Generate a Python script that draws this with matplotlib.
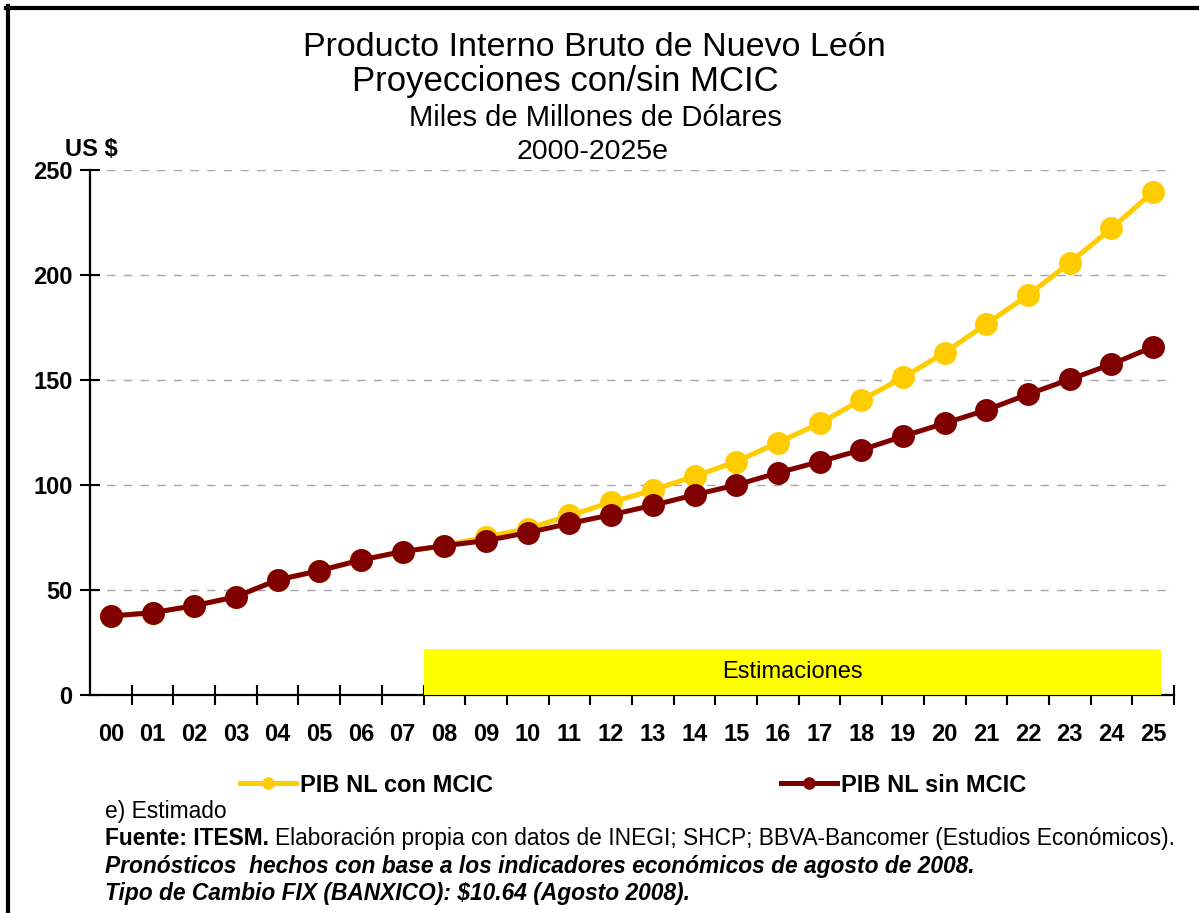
import matplotlib
matplotlib.use('Agg')
import matplotlib.pyplot as plt
from matplotlib.lines import Line2D
from matplotlib.patches import Rectangle
from matplotlib.ticker import MultipleLocator, FixedLocator

# PIB Nuevo León, miles de millones de dólares
years = ['00', '01', '02', '03', '04', '05', '06', '07', '08', '09', '10', '11', '12',
         '13', '14', '15', '16', '17', '18', '19', '20', '21', '22', '23', '24', '25']
pib_sin = [37.6, 39.2, 42.5, 46.8, 54.8, 59.2, 64.3, 68.3, 71.1, 73.5, 77.3, 81.7, 85.8,
           90.3, 95.3, 100.0, 105.8, 111.1, 116.7, 123.2, 129.4, 135.7, 143.2, 150.3, 157.5, 165.8]
pib_con = [37.6, 39.2, 42.5, 46.8, 54.8, 59.2, 64.3, 68.3, 71.1, 75.3, 79.2, 85.5, 91.8,
           97.6, 104.2, 111.1, 120.2, 129.4, 140.4, 151.2, 163.0, 176.7, 190.4, 205.8, 222.2, 239.6]
est_start, est_end, est_height = 7.5, 25.18, 22

plt.rcParams['font.family'] = ['Liberation Sans', 'DejaVu Sans']

fig = plt.figure(figsize=(11.99, 9.13), dpi=100)
ax = fig.add_axes([90 / 1199, 1 - 695 / 913, 1084 / 1199, 525 / 913])

x = list(range(len(years)))
l_con, = ax.plot(x, pib_con, color='#FFCC00', lw=3.6, marker='o', ms=16.5, mew=0,
                 label='PIB NL con MCIC', zorder=4)
l_sin, = ax.plot(x, pib_sin, color='#800000', lw=3.6, marker='o', ms=16.5, mew=0,
                 label='PIB NL sin MCIC', zorder=5)

ax.add_patch(Rectangle((est_start, 0), est_end - est_start, est_height,
                       facecolor='#FFFF00', edgecolor='none', zorder=3, clip_on=False))
ax.text((est_start + est_end) / 2, est_height / 2, 'Estimaciones', ha='center', va='center',
        fontsize=17, zorder=4)

ax.set_xlim(-0.5, len(years) - 0.5)
ax.set_ylim(0, 250)
ax.yaxis.set_major_locator(MultipleLocator(50))
ax.set_xticks(x)
ax.set_xticklabels(years)
ax.xaxis.set_minor_locator(FixedLocator([i + 0.5 for i in range(len(years))]))
ax.tick_params(axis='x', which='major', length=0, pad=20, labelsize=17)
ax.tick_params(axis='x', which='minor', length=15, width=1.5, direction='inout')
ax.tick_params(axis='y', length=15, width=1.5, direction='inout', pad=5, labelsize=17)
for lab in ax.get_xticklabels() + ax.get_yticklabels():
    lab.set_fontweight('bold')

ax.grid(axis='y', color='#A6A6A6', linestyle=(0, (6, 6)), linewidth=1)
ax.set_axisbelow(True)
for s in ['top', 'right']:
    ax.spines[s].set_visible(False)
for s in ['left', 'bottom']:
    ax.spines[s].set_linewidth(1.6)
    ax.spines[s].set_zorder(2.5)

# titulos
fig.text(594 / 1199, 1 - 47 / 913, 'Producto Interno Bruto de Nuevo León', ha='center', va='center', fontsize=24.5)
fig.text(565 / 1199, 1 - 82 / 913, 'Proyecciones con/sin MCIC', ha='center', va='center', fontsize=25)
fig.text(595 / 1199, 1 - 118 / 913, 'Miles de Millones de Dólares', ha='center', va='center', fontsize=21)
fig.text(593 / 1199, 1 - 152 / 913, '2000-2025e', ha='center', va='center', fontsize=20.5)
fig.text(65 / 1199, 1 - 150 / 913, 'US $', ha='left', va='center', fontsize=17, fontweight='bold')

leg = fig.legend(handles=[l_con, l_sin], loc='center left', bbox_to_anchor=(240 / 1199, 1 - 785 / 913),
                 ncol=2, frameon=False, borderpad=0, borderaxespad=0, handlelength=2.37,
                 handletextpad=0.17, columnspacing=12.2, markerscale=0.55,
                 prop={'size': 17, 'weight': 'bold'})

# notas
fs = 16.4
fig.text(105 / 1199, 1 - 811 / 913, 'e) Estimado', ha='left', va='center', fontsize=fs)
t1 = fig.text(105 / 1199, 1 - 838 / 913, 'Fuente: ITESM. ', ha='left', va='center', fontsize=fs,
              fontweight='bold')
ax.annotate('Elaboración propia con datos de INEGI; SHCP; BBVA-Bancomer (Estudios Económicos).',
            xy=(1, 0), xycoords=t1, ha='left', va='bottom', fontsize=fs, annotation_clip=False)
fig.text(105 / 1199, 1 - 866 / 913, 'Pronósticos  hechos con base a los indicadores económicos de agosto de 2008.',
         ha='left', va='center', fontsize=fs, fontweight='bold', fontstyle='italic')
fig.text(105 / 1199, 1 - 893 / 913, 'Tipo de Cambio FIX (BANXICO): $10.64 (Agosto 2008).',
         ha='left', va='center', fontsize=fs, fontweight='bold', fontstyle='italic')

# marco
fig.add_artist(Line2D([6 / 1199, 1], [1 - 8 / 913, 1 - 8 / 913], color='black', lw=3, transform=fig.transFigure))
fig.add_artist(Line2D([8 / 1199, 8 / 1199], [1 - 6 / 913, 0], color='black', lw=3, transform=fig.transFigure))

fig.savefig('out.png', dpi=100)
